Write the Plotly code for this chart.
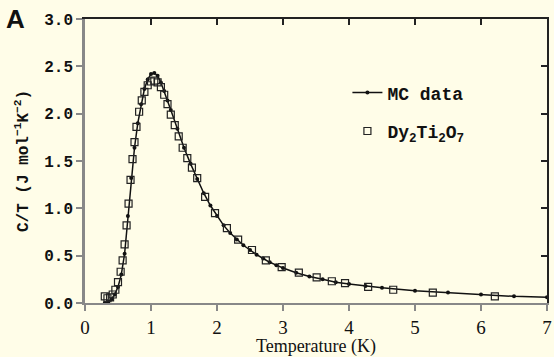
import plotly.graph_objects as go

# Monte Carlo simulation (line with dots)
mc_T = [0.30, 0.35, 0.40, 0.45, 0.50, 0.55, 0.60, 0.65, 0.70, 0.75, 0.80, 0.85,
        0.90, 0.95, 1.00, 1.05, 1.10, 1.15, 1.20, 1.25, 1.30, 1.40, 1.50, 1.60,
        1.70, 1.80, 1.90, 2.00, 2.10, 2.20, 2.30, 2.40, 2.50, 2.60, 2.70, 2.80,
        2.90, 3.00, 3.20, 3.40, 3.60, 3.80, 4.00, 4.25, 4.50, 5.00, 5.50, 6.00,
        6.50, 7.00]
mc_C = [0.00, 0.01, 0.04, 0.09, 0.17, 0.30, 0.52, 0.92, 1.32, 1.64, 1.90, 2.10,
        2.26, 2.36, 2.42, 2.43, 2.40, 2.33, 2.24, 2.14, 2.04, 1.84, 1.64, 1.47,
        1.31, 1.16, 1.03, 0.92, 0.82, 0.74, 0.67, 0.61, 0.56, 0.51, 0.47, 0.43,
        0.40, 0.37, 0.32, 0.28, 0.25, 0.22, 0.20, 0.18, 0.16, 0.13, 0.11, 0.09,
        0.07, 0.06]

# Dy2Ti2O7 experimental data (open squares)
exp_T = [0.30, 0.34, 0.38, 0.42, 0.46, 0.50, 0.54, 0.57, 0.60, 0.63, 0.66, 0.69,
         0.72, 0.75, 0.78, 0.82, 0.86, 0.90, 0.95, 1.00, 1.05, 1.10, 1.15, 1.20,
         1.25, 1.30, 1.36, 1.42, 1.48, 1.55, 1.62, 1.70, 1.82, 1.97, 2.15, 2.32,
         2.53, 2.74, 2.98, 3.24, 3.51, 3.74, 3.94, 4.29, 4.67, 5.27, 6.21]
exp_C = [0.07, 0.05, 0.06, 0.09, 0.14, 0.22, 0.33, 0.45, 0.62, 0.82, 1.05, 1.30,
         1.52, 1.70, 1.86, 2.02, 2.14, 2.23, 2.30, 2.34, 2.35, 2.33, 2.28, 2.20,
         2.10, 1.99, 1.88, 1.76, 1.64, 1.53, 1.43, 1.32, 1.12, 0.95, 0.79, 0.67,
         0.56, 0.45, 0.38, 0.32, 0.27, 0.23, 0.21, 0.17, 0.14, 0.11, 0.07]

x_ticks = [0, 1, 2, 3, 4, 5, 6, 7]
x_ticktext = ["0", "1", "2", "3", "4", "5", "6", "7"]
y_ticks = [0.0, 0.5, 1.0, 1.5, 2.0, 2.5, 3.0]
y_ticktext = ["<b>0.0</b>", "<b>0.5</b>", "<b>1.0</b>", "<b>1.5</b>", "<b>2.0</b>",
              "<b>2.5</b>", "<b>3.0</b>"]

BG = "#FFFDE8"
MONO = "Liberation Mono"
SERIF = "Liberation Serif"

fig = go.Figure()
fig.add_trace(go.Scatter(
    x=mc_T, y=mc_C, mode="lines+markers", name="<b>MC data</b>",
    line=dict(color="#111111", width=1.5),
    marker=dict(symbol="circle", size=4, color="#111111"),
    legendgroup="a",
))
fig.add_trace(go.Scatter(
    x=exp_T, y=exp_C, mode="markers",
    name="<b>Dy<sub>2</sub>Ti<sub>2</sub>O<sub>7</sub></b>",
    marker=dict(symbol="square-open", size=7, color="#222222", line=dict(width=1.2)),
    legendgroup="b",
))
# invisible trace to carry the top/right mirror axes
fig.add_trace(go.Scatter(x=[0, 7], y=[0, 3], xaxis="x2", yaxis="y2",
                         mode="markers", marker=dict(opacity=0), showlegend=False,
                         hoverinfo="skip"))

fig.update_layout(
    width=554, height=357,
    margin=dict(l=85, r=7, t=19, b=54),
    paper_bgcolor=BG, plot_bgcolor=BG,
    showlegend=True,
    legend=dict(x=0.568, y=0.805, xanchor="left", yanchor="top",
                bgcolor="rgba(0,0,0,0)", tracegroupgap=12,
                font=dict(family=MONO, size=18, color="#111111"),
                itemwidth=30),
    xaxis=dict(range=[0, 7], tickvals=x_ticks, ticktext=x_ticktext, ticks="outside",
               ticklen=6, automargin=False,
               tickwidth=1.5, tickcolor="#888888", showline=True, linecolor="#888888",
               linewidth=2, showgrid=False, zeroline=False,
               tickfont=dict(family=SERIF, size=19, color="#111111"),
               title=dict(text="Temperature (K)", standoff=0,
                          font=dict(family=SERIF, size=18, color="#111111"))),
    yaxis=dict(range=[0, 3], tickvals=y_ticks, ticktext=y_ticktext, ticks="outside",
               ticklen=6, tickwidth=1.5, tickcolor="#888888", showline=True,
               automargin=False,
               linecolor="#888888", linewidth=2.5, showgrid=False, zeroline=False,
               tickfont=dict(family=MONO, size=16, color="#111111"),
               title=dict(text="<b>C/T (J mol<sup>−1</sup>K<sup>−2</sup>)</b>", standoff=12,
                          font=dict(family=MONO, size=16, color="#111111"))),
    xaxis2=dict(range=[0, 7], overlaying="x", side="top", tickvals=x_ticks,
                ticks="inside", ticklen=6, tickwidth=1.5, tickcolor="#222222",
                showline=True, linecolor="#222222", linewidth=2, automargin=False,
                showticklabels=False, showgrid=False, zeroline=False),
    yaxis2=dict(range=[0, 3], overlaying="y", side="right", tickvals=y_ticks,
                ticks="inside", ticklen=6, tickwidth=1.5, tickcolor="#222222",
                showline=True, linecolor="#222222", linewidth=2, automargin=False,
                showticklabels=False, showgrid=False, zeroline=False),
    annotations=[dict(text="<b>A</b>", xref="paper", yref="paper", x=-0.175, y=1.0,
                      xanchor="left", yanchor="middle", showarrow=False,
                      font=dict(family="Liberation Sans", size=26, color="#111111"))],
)

fig.write_html("out.html", config={"displayModeBar": False},
               post_script="document.body.style.margin='0';"
                           "document.body.style.background='" + BG + "';")
